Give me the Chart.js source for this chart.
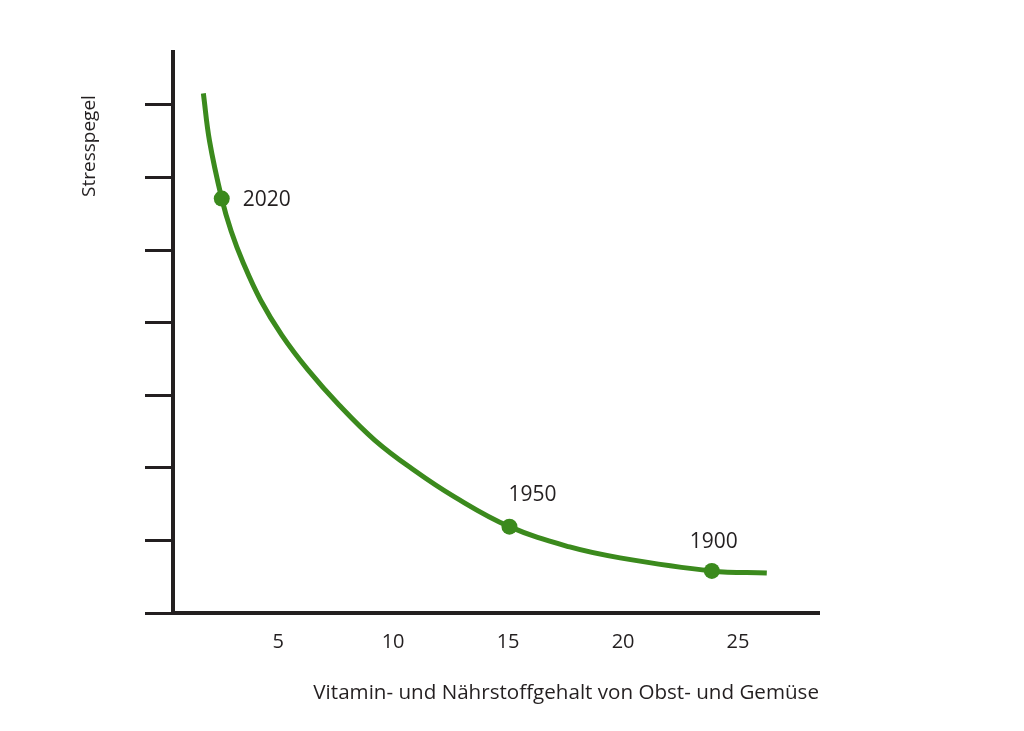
<!DOCTYPE html>
<html>
<head>
<meta charset="utf-8">
<script src="https://cdn.jsdelivr.net/npm/chart.js@4.4.1/dist/chart.umd.min.js"></script>
<style>
    body { margin: 0; background: #ffffff; }
    #wrap { width: 1024px; height: 731px; }
</style>
</head>
<body>
<div id="wrap"><canvas id="stressChart" width="1024" height="731"></canvas></div>
<script>
// curve (x = nutrient content, y = stress level)
const curveX = [1.75, 2.02, 2.55, 2.96, 3.49, 4.24, 5.16, 6.30, 7.64, 9.21, 10.90, 12.67, 15.06, 17.68, 19.87, 23.86, 26.25];
const curveY = [7.16, 6.50, 5.71, 5.26, 4.82, 4.31, 3.83, 3.35, 2.87, 2.38, 1.97, 1.60, 1.19, 0.91, 0.76, 0.58, 0.55];

// marked years on the curve
const yearLabels = ['2020', '1950', '1900'];
const yearX = [2.55, 15.06, 23.86];
const yearY = [5.71, 1.19, 0.58];

const xTicks = [5, 10, 15, 20, 25];
const yTicks = [0, 1, 2, 3, 4, 5, 6, 7];

const xTitle = 'Vitamin- und Nährstoffgehalt von Obst- und Gemüse';
const yTitle = 'Stresspegel';

const green = '#3b8a1d';
const ink = '#231f20';
const fontFamily = '"Open Sans", "Noto Sans", sans-serif';

// year labels next to the dots
const yearLabelPlugin = {
    id: 'yearLabels',
    afterDatasetsDraw(chart) {
        const ctx = chart.ctx;
        const meta = chart.getDatasetMeta(1);
        const offsets = [
            { dx: 21, dy: 1, align: 'left' },
            { dx: 23, dy: -32, align: 'center' },
            { dx: 2, dy: -29, align: 'center' }
        ];
        ctx.save();
        ctx.fillStyle = ink;
        ctx.font = '21px ' + fontFamily;
        ctx.textBaseline = 'middle';
        meta.data.forEach((pt, i) => {
            ctx.textAlign = offsets[i].align;
            ctx.fillText(yearLabels[i], pt.x + offsets[i].dx, pt.y + offsets[i].dy);
        });
        ctx.restore();
    }
};

// vertical axis title sits near the top of the axis
const yTitlePlugin = {
    id: 'yTitle',
    afterDraw(chart) {
        const ctx = chart.ctx;
        ctx.save();
        ctx.translate(90, 146);
        ctx.rotate(-Math.PI / 2);
        ctx.fillStyle = ink;
        ctx.font = '19px ' + fontFamily;
        ctx.textAlign = 'center';
        ctx.textBaseline = 'middle';
        ctx.fillText(yTitle, 0, 0);
        ctx.restore();
    }
};

new Chart(document.getElementById('stressChart').getContext('2d'), {
    type: 'line',
    data: {
        datasets: [
            {
                data: curveX.map((x, i) => ({ x: x, y: curveY[i] })),
                borderColor: green,
                borderWidth: 5,
                pointRadius: 0,
                fill: false,
                tension: 0.4,
                borderCapStyle: 'butt'
            },
            {
                data: yearX.map((x, i) => ({ x: x, y: yearY[i] })),
                showLine: false,
                pointRadius: 8,
                pointBackgroundColor: green,
                pointBorderWidth: 0
            }
        ]
    },
    options: {
        responsive: false,
        animation: false,
        layout: { padding: { top: 52, right: 205, left: 0, bottom: 0 } },
        plugins: {
            legend: { display: false },
            tooltip: { enabled: false }
        },
        scales: {
            x: {
                type: 'linear',
                min: 0.43,
                max: 28.52,
                afterBuildTicks: scale => { scale.ticks = xTicks.map(v => ({ value: v })); },
                afterFit: scale => { scale.height = 118; },
                grid: { display: false, drawTicks: false },
                border: { display: true, color: ink, width: 4 },
                ticks: {
                    color: ink,
                    padding: 17,
                    maxRotation: 0,
                    font: { family: fontFamily, size: 20 }
                },
                title: {
                    display: true,
                    text: xTitle,
                    align: 'end',
                    color: ink,
                    padding: { top: 0, bottom: 26 },
                    font: { family: fontFamily, size: 20.6 }
                }
            },
            y: {
                type: 'linear',
                min: 0,
                max: 7.73,
                afterBuildTicks: scale => { scale.ticks = yTicks.map(v => ({ value: v })); },
                afterFit: scale => { scale.width = 173; },
                grid: {
                    drawOnChartArea: false,
                    drawTicks: true,
                    tickLength: 28,
                    color: ink,
                    lineWidth: 3
                },
                border: { display: true, color: ink, width: 4 },
                ticks: { display: false }
            }
        }
    },
    plugins: [yearLabelPlugin, yTitlePlugin]
});
</script>
</body>
</html>
